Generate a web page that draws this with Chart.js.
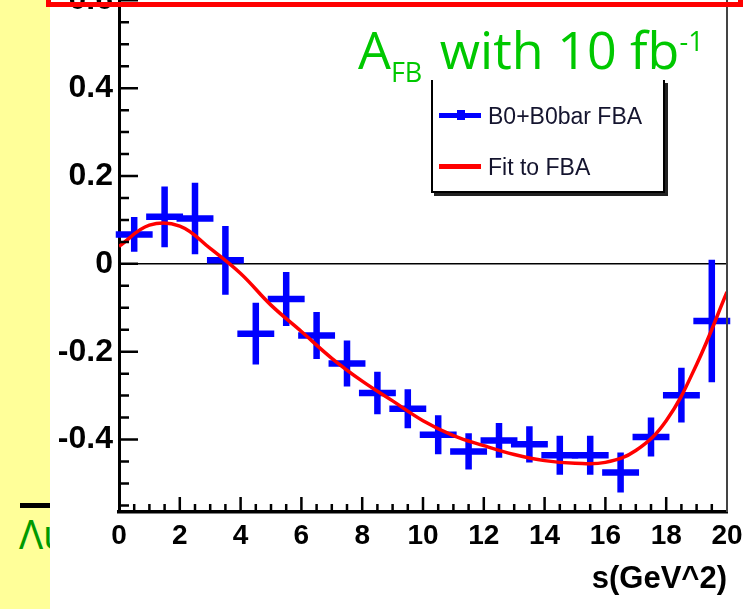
<!DOCTYPE html>
<html>
<head>
<meta charset="utf-8">
<script src="https://cdn.jsdelivr.net/npm/chart.js@4.4.1/dist/chart.umd.min.js"></script>
<style>
  html, body { margin: 0; padding: 0; }
  body { width: 751px; height: 609px; overflow: hidden; position: relative; background: #ffff99; font-family: "Liberation Sans", Arial, sans-serif; }
  #sheet { position: absolute; left: 50px; top: 0; width: 701px; height: 609px; background: #fff; }
  #wrap { position: absolute; left: 0; top: -60px; width: 751px; height: 669px; }
  #side { position: absolute; left: 0; top: 0; width: 50px; height: 609px; overflow: hidden; }
  #side .bar { position: absolute; left: 20px; top: 503px; width: 40px; height: 5px; background: #000; }
  #side .txt { position: absolute; left: 19px; top: 514px; font: 40px "Open Sans", sans-serif; line-height: 40px; color: #009a00; white-space: nowrap; }
  #redbox { position: absolute; left: 46px; top: -100px; width: 697px; height: 107px; box-sizing: border-box; border: 5px solid #ff0000; }
  #title { position: absolute; left: 358px; top: 23px; font: 52px "Open Sans", sans-serif; line-height: 52px; color: #00c800; white-space: nowrap; }
  #title .sub { font-size: 27px; position: relative; top: 13px; margin-right: 4px; }
  #title .sup { font-size: 27px; position: relative; top: -18px; }
  #legend { position: absolute; left: 431px; top: 80px; width: 234px; height: 113px; box-sizing: border-box; border: 2px solid #000; border-top: none; box-shadow: 3px 3px 0 #222; }
  .lg-line { position: absolute; left: 6px; width: 42px; height: 5px; }
  .lg-mark { position: absolute; left: 24px; width: 8px; height: 10px; background: #0000ff; }
  .lg-text { position: absolute; left: 55px; font-size: 23px; line-height: 24px; color: #14142e; white-space: nowrap; }
</style>
</head>
<body>
<div id="sheet"></div>
<div id="side"><div class="bar"></div><div class="txt">Λu</div></div>
<div id="wrap"><canvas id="afbChart" width="751" height="669"></canvas></div>
<div id="legend">
  <div class="lg-line" style="top:33px;background:#0000ff;"></div>
  <div class="lg-mark" style="top:30px;"></div>
  <div class="lg-text" style="top:24px;">B0+B0bar FBA</div>
  <div class="lg-line" style="top:84px;background:#ff0000;"></div>
  <div class="lg-text" style="top:75px;">Fit to FBA</div>
</div>
<div id="title">A<span class="sub">FB</span> with 10 fb<span class="sup">-1</span></div>
<div id="redbox"></div>
<script>
// ---- data ----
const binCenters = [0.5, 1.5, 2.5, 3.5, 4.5, 5.5, 6.5, 7.5, 8.5, 9.5,
                    10.5, 11.5, 12.5, 13.5, 14.5, 15.5, 16.5, 17.5, 18.5, 19.5];
const afbValues = [0.067, 0.107, 0.103, 0.008, -0.159, -0.080, -0.163, -0.227, -0.294, -0.330,
                   -0.389, -0.427, -0.402, -0.411, -0.436, -0.436, -0.475, -0.394, -0.299, -0.130];
const afbErrors = [0.032, 0.062, 0.074, 0.071, 0.063, 0.054, 0.046, 0.045, 0.041, 0.037,
                   0.037, 0.034, 0.032, 0.034, 0.037, 0.037, 0.038, 0.037, 0.055, 0.132];
const binHalfWidth = 0.5;

const fitS = [0, 1, 2, 3, 4, 5, 6, 7, 8, 9, 10,
              11, 12, 13, 14, 15, 16, 17, 18, 19, 20];
const fitValues = [0.040, 0.088, 0.086, 0.035, -0.022, -0.094, -0.154, -0.215, -0.267, -0.312, -0.357,
                   -0.391, -0.414, -0.434, -0.448, -0.454, -0.452, -0.425, -0.357, -0.229, -0.064];

const xTickValues = [0, 2, 4, 6, 8, 10, 12, 14, 16, 18, 20];
const yTickValues = [-0.4, -0.2, 0, 0.2, 0.4, 0.6];

// ---- ROOT-style frame: zero line, error crosses, inner ticks ----
const rootFrame = {
    id: "rootFrame",
    beforeDatasetsDraw(chart) {
        const { ctx, chartArea: a, scales: { x, y } } = chart;
        ctx.save();
        const y0 = y.getPixelForValue(0);
        ctx.strokeStyle = "#000";
        ctx.lineWidth = 1.5;
        ctx.beginPath();
        ctx.moveTo(a.left, y0);
        ctx.lineTo(a.right, y0);
        ctx.stroke();

        ctx.strokeStyle = "#0000ff";
        ctx.lineWidth = 6.5;
        ctx.lineCap = "square";
        binCenters.forEach((s, i) => {
            const px = x.getPixelForValue(s);
            const py = y.getPixelForValue(afbValues[i]);
            ctx.beginPath();
            ctx.moveTo(x.getPixelForValue(s - binHalfWidth), py);
            ctx.lineTo(x.getPixelForValue(s + binHalfWidth), py);
            ctx.moveTo(px, y.getPixelForValue(afbValues[i] + afbErrors[i]));
            ctx.lineTo(px, y.getPixelForValue(afbValues[i] - afbErrors[i]));
            ctx.stroke();
        });
        ctx.restore();
    },
    afterDraw(chart) {
        const { ctx, chartArea: a, scales: { x, y } } = chart;
        ctx.save();
        ctx.strokeStyle = "#000";
        ctx.lineWidth = 2.5;
        ctx.beginPath();
        // y ticks every 0.05, long ones every 0.2
        for (let k = -11; k <= 13; k++) {
            const py = y.getPixelForValue(k * 0.05);
            const len = k % 4 === 0 ? 19 : 10;
            ctx.moveTo(a.left, py);
            ctx.lineTo(a.left + len, py);
        }
        // x ticks every 0.5, long ones every 2
        for (let k = 1; k < 40; k++) {
            const px = x.getPixelForValue(k * 0.5);
            const len = k % 4 === 0 ? 15 : 8;
            ctx.moveTo(px, a.bottom);
            ctx.lineTo(px, a.bottom - len);
        }
        ctx.stroke();

        // right frame edge
        ctx.strokeStyle = "#444";
        ctx.lineWidth = 2;
        ctx.beginPath();
        ctx.moveTo(a.right, a.top);
        ctx.lineTo(a.right, a.bottom);
        ctx.stroke();
        ctx.restore();
    }
};

new Chart(document.getElementById("afbChart"), {
    type: "line",
    data: {
        datasets: [{
            label: "Fit to FBA",
            data: fitS.map((s, i) => ({ x: s, y: fitValues[i] })),
            borderColor: "#ff0000",
            borderWidth: 3.5,
            pointRadius: 0,
            fill: false,
            tension: 0.4
        }]
    },
    options: {
        responsive: false,
        animation: false,
        layout: { padding: { top: 20, right: 24, bottom: 0, left: 0 } },
        plugins: { legend: { display: false }, tooltip: { enabled: false } },
        scales: {
            x: {
                type: "linear",
                min: 0,
                max: 20,
                afterBuildTicks: scale => { scale.ticks = xTickValues.map(v => ({ value: v })); },
                afterFit: scale => { scale.height = 97; },
                grid: { display: false, drawTicks: false },
                border: { display: true, color: "#000", width: 3.5 },
                ticks: {
                    color: "#000",
                    font: { family: "Liberation Sans", size: 28, weight: "bold" },
                    padding: 7,
                    maxRotation: 0,
                    autoSkip: false
                },
                title: {
                    display: true,
                    text: "s(GeV^2)",
                    align: "end",
                    color: "#000",
                    font: { family: "Liberation Sans", size: 31, weight: "bold" },
                    padding: { top: 0, bottom: 11 }
                }
            },
            y: {
                type: "linear",
                min: -0.565,
                max: 0.68,
                afterBuildTicks: scale => { scale.ticks = yTickValues.map(v => ({ value: v })); },
                afterFit: scale => { scale.width = 119; },
                grid: { display: false, drawTicks: false },
                border: { display: true, color: "#000", width: 3 },
                ticks: {
                    color: "#000",
                    font: { family: "Liberation Sans", size: 32, weight: "bold" },
                    padding: 6,
                    callback: v => String(Math.round(v * 10) / 10)
                }
            }
        }
    },
    plugins: [rootFrame]
});
</script>
</body>
</html>
